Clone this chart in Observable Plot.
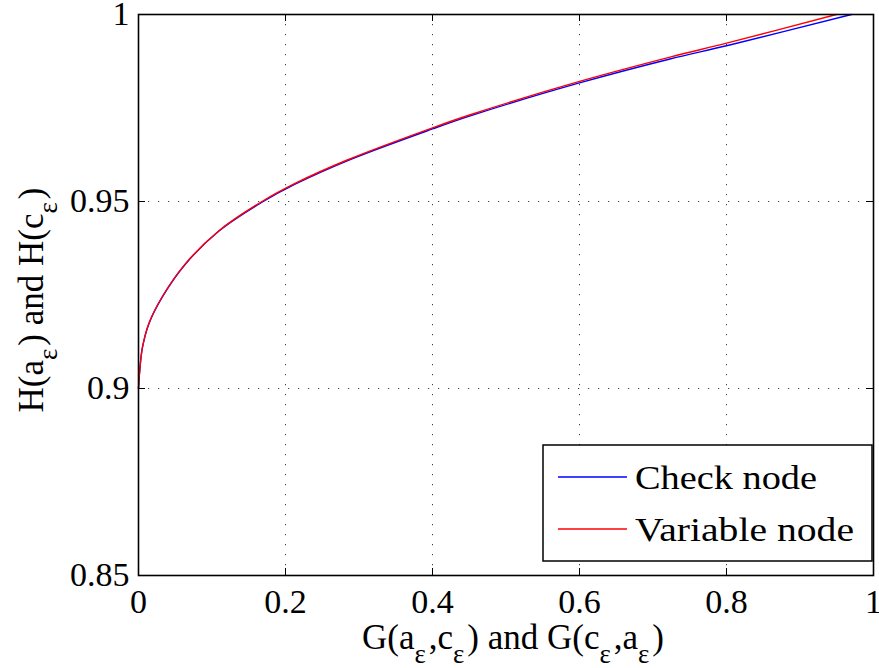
<!DOCTYPE html>
<html>
<head>
<meta charset="utf-8">
<script src="https://cdn.jsdelivr.net/npm/d3@7"></script>
<script src="https://cdn.jsdelivr.net/npm/@observablehq/plot@0.6"></script>
<style>
  html, body { margin: 0; padding: 0; background: #fff; }
  #chart svg { display: block; }
  #chart svg text { font-family: "Liberation Serif", "Times New Roman", serif; }
</style>
</head>
<body>
<div id="chart"></div>
<script>
// ---- data ----
const checkX = [0, 0.0017, 0.0053, 0.0143, 0.0325, 0.064, 0.1095, 0.168, 0.2137, 0.284, 0.4, 0.4514, 0.6, 0.7232, 0.8015, 0.97];
const checkY = [0.9, 0.9048, 0.9109, 0.9174, 0.9245, 0.9333, 0.9421, 0.9498, 0.9547, 0.9609, 0.9694, 0.9729, 0.9817, 0.9881, 0.9917, 1.0];
const varX = [0, 0.0017, 0.0053, 0.0143, 0.0325, 0.064, 0.1095, 0.168, 0.2137, 0.284, 0.4, 0.4514, 0.6, 0.7232, 0.8015, 0.9495];
const varY = [0.9, 0.9048, 0.9109, 0.9175, 0.9246, 0.9334, 0.9422, 0.95, 0.9549, 0.9611, 0.9697, 0.9732, 0.9821, 0.9886, 0.9924, 1.0];
const xTicks = [0, 0.2, 0.4, 0.6, 0.8, 1];
const yTicks = [0.85, 0.9, 0.95, 1];
const xGrid = [0.2, 0.4, 0.6, 0.8];
const yGrid = [0.9, 0.95];
const seriesNames = ["Check node", "Variable node"];
const seriesColors = ["#0000ff", "#ff0000"];

const checkData = checkX.map((x, i) => ({x, y: checkY[i]}));
const varData = varX.map((x, i) => ({x, y: varY[i]}));

const W = 879, H = 668;
const mL = 138, mR = 6, mT = 14, mB = 93;
const innerW = W - mL - mR, innerH = H - mT - mB;
const tickLen = 7;
const font = "Liberation Serif";
const fmt = d => d === 0 ? "0" : d === 1 ? "1" : String(d);

const svg = Plot.plot({
  width: W, height: H,
  marginLeft: mL, marginRight: mR, marginTop: mT, marginBottom: mB,
  style: {fontFamily: font, fontSize: "34px", color: "#000", background: "#fff", overflow: "visible"},
  x: {domain: [0, 1]},
  y: {domain: [0.85, 1]},
  marks: [
    Plot.gridX(xGrid, {stroke: "#000", strokeOpacity: 0.75, strokeDasharray: "1.2,8.8", strokeWidth: 1}),
    Plot.gridY(yGrid, {stroke: "#000", strokeOpacity: 0.75, strokeDasharray: "1.2,8.8", strokeWidth: 1}),
    Plot.line(checkData, {x: "x", y: "y", stroke: seriesColors[0], strokeWidth: 1.4, curve: "catmull-rom"}),
    Plot.line(varData, {x: "x", y: "y", stroke: seriesColors[1], strokeWidth: 1.4, curve: "catmull-rom"}),
    // inward ticks on all four sides
    Plot.tickX(xTicks, {x: d => d, stroke: "#000", strokeWidth: 1, insetTop: innerH - tickLen}),
    Plot.tickX(xTicks, {x: d => d, stroke: "#000", strokeWidth: 1, insetBottom: innerH - tickLen}),
    Plot.tickY(yTicks, {y: d => d, stroke: "#000", strokeWidth: 1, insetRight: innerW - tickLen}),
    Plot.tickY(yTicks, {y: d => d, stroke: "#000", strokeWidth: 1, insetLeft: innerW - tickLen}),
    Plot.axisX(xTicks, {tickSize: 0, tickPadding: 13, tickFormat: fmt, fontSize: 34, fontFamily: font, label: null}),
    Plot.axisY(yTicks, {tickSize: 0, tickPadding: 9, tickFormat: fmt, fontSize: 34, fontFamily: font, label: null}),
    Plot.frame({stroke: "#000", strokeWidth: 1.6})
  ]
});

const s = d3.select(svg);

// axis labels with subscripts
function addSubText(g, parts, size, subSize, shift) {
  parts.forEach(p => {
    if (p.sub) {
      g.append("tspan").attr("font-size", subSize).attr("dy", shift).text(p.t);
      g.append("tspan").attr("font-size", size).attr("dy", -shift).text("\u200A");
    } else {
      g.append("tspan").attr("font-size", size).text(p.t);
    }
  });
}
const xLabelParts = [{t: "G(a"}, {t: "ε", sub: true}, {t: ",c"}, {t: "ε", sub: true}, {t: ") and G(c"}, {t: "ε", sub: true}, {t: ",a"}, {t: "ε", sub: true}, {t: ")"}];
const yLabelParts = [{t: "H(a"}, {t: "ε", sub: true}, {t: ") and H(c"}, {t: "ε", sub: true}, {t: ")"}];

const xl = s.append("text")
  .attr("x", 513).attr("y", 649)
  .attr("text-anchor", "middle")
  .attr("font-family", font).attr("fill", "#000");
addSubText(xl, xLabelParts, 35, 27, 14);

const yl = s.append("text")
  .attr("transform", "translate(43,300) rotate(-90)")
  .attr("text-anchor", "middle")
  .attr("font-family", font).attr("fill", "#000");
addSubText(yl, yLabelParts, 35, 27, 14);

// legend
const lg = s.append("g");
lg.append("rect").attr("x", 543).attr("y", 445).attr("width", 329).attr("height", 116)
  .attr("fill", "#fff").attr("stroke", "#000").attr("stroke-width", 1.5);
const rowsY = [477, 529];
seriesNames.forEach((name, i) => {
  lg.append("line").attr("x1", 558).attr("x2", 627).attr("y1", rowsY[i]).attr("y2", rowsY[i])
    .attr("stroke", seriesColors[i]).attr("stroke-width", 1.4);
  lg.append("text").attr("x", 635).attr("y", rowsY[i] + 12)
    .attr("text-anchor", "start")
    .attr("font-family", font).attr("font-size", 34).attr("fill", "#000")
    .attr("textLength", i === 0 ? 182 : 219).attr("lengthAdjust", "spacingAndGlyphs")
    .text(name);
});

document.getElementById("chart").appendChild(svg);
</script>
</body>
</html>
